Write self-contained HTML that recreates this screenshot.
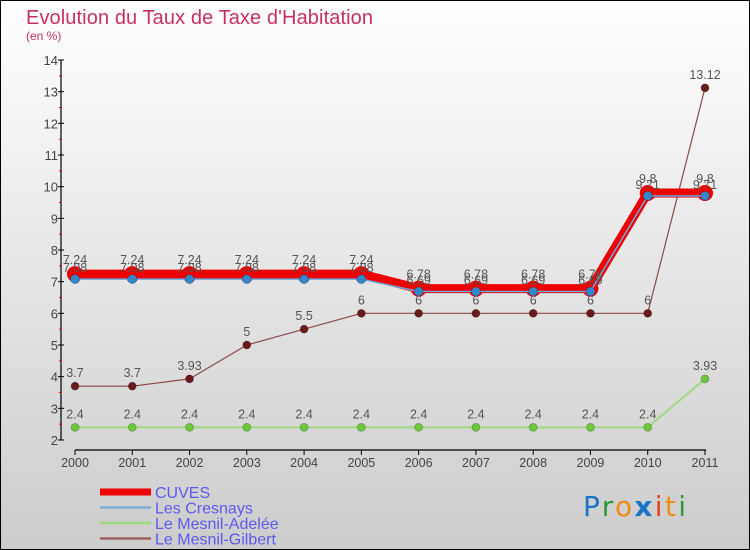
<!DOCTYPE html>
<html><head><meta charset="utf-8"><style>
body{margin:0;width:750px;height:550px;overflow:hidden;font-family:"DejaVu Sans","Liberation Sans",sans-serif}
</style></head><body>
<svg id="c" width="750" height="550" xmlns="http://www.w3.org/2000/svg" style="display:block">
<defs><linearGradient id="bg" x1="0" y1="0" x2="0" y2="1"><stop offset="0" stop-color="#ffffff"/><stop offset="1" stop-color="#cccccc"/></linearGradient></defs>
<rect x="0.5" y="0.5" width="749" height="549" fill="url(#bg)" stroke="#000"/>
<text x="26" y="24" font-size="20" fill="#c8305f" font-family="Liberation Sans, sans-serif" textLength="347">Evolution du Taux de Taxe d'Habitation</text>
<text x="26" y="40" font-size="12" fill="#c8305f" font-family="Liberation Sans, sans-serif">(en %)</text>
<g id="axes"></g><g id="series"></g><g id="legend"></g>
<text x="583" y="516" font-size="28" font-family="'DejaVu Sans',sans-serif" textLength="103"><tspan fill="#1a74c8">P</tspan><tspan fill="#2a9a3a">r</tspan><tspan fill="#f08a10">o</tspan><tspan fill="#1a74c8" font-weight="bold">x</tspan><tspan fill="#e8401a">i</tspan><tspan fill="#f08a10">t</tspan><tspan fill="#2a9a3a">i</tspan></text>
</svg>
<script>
const years=[2000,2001,2002,2003,2004,2005,2006,2007,2008,2009,2010,2011];
const cuves=[7.24,7.24,7.24,7.24,7.24,7.24,6.78,6.78,6.78,6.78,9.8,9.8];
const cresnays=[7.08,7.08,7.08,7.08,7.08,7.08,6.69,6.69,6.69,6.69,9.71,9.71];
const adelee=[2.4,2.4,2.4,2.4,2.4,2.4,2.4,2.4,2.4,2.4,2.4,3.93];
const gilbert=[3.7,3.7,3.93,5,5.5,6,6,6,6,6,6,13.12];
const yTicks=[2,3,4,5,6,7,8,9,10,11,12,13,14];
const NS='http://www.w3.org/2000/svg';
const xs=i=>75+i*(630/11);
const ys=v=>440-(v-2)*(380/12);
function mk(tag,attrs,parent,txt){const e=document.createElementNS(NS,tag);for(const k in attrs)e.setAttribute(k,attrs[k]);if(txt!==undefined)e.textContent=txt;parent.appendChild(e);return e;}
const ax=document.getElementById('axes');
let e=mk('line',{x1:61,y1:60,x2:61,y2:440,stroke:'#000','stroke-width':1.2},ax);


e=mk('line',{x1:75,y1:450,x2:706,y2:450,stroke:'#000','stroke-width':1.2},ax);


yTicks.forEach((t,i)=>{const y=ys(t);
 mk('line',{x1:58,y1:y,x2:64,y2:y,stroke:'#000'},ax);
 if(i<yTicks.length-1)mk('line',{x1:59,y1:ys(t+0.5),x2:62,y2:ys(t+0.5),stroke:'#e00'},ax);
 e=mk('text',{x:58,y:y+5,'font-size':13,fill:'#444','text-anchor':'end','font-family':'Liberation Sans, sans-serif'},ax,t);
 
 
});
years.forEach((yr,i)=>{const x=xs(i);
 mk('line',{x1:x,y1:450,x2:x,y2:455,stroke:'#000'},ax);
 e=mk('text',{x:x,y:467,'font-size':12.5,fill:'#444','text-anchor':'middle','font-family':'Liberation Sans, sans-serif'},ax,yr);
 
 
});
const sg=document.getElementById('series');
const fmt=v=>String(v);
function series(name,vals,color,w,r,dot,labOff){
 const g=mk('g',{},sg);
 
 
 const pl=mk('polyline',{points:vals.map((v,i)=>xs(i)+','+ys(v)).join(' '),fill:'none',stroke:color,'stroke-width':w,'stroke-linejoin':'round'},g);
 
 
 vals.forEach((v,i)=>{
  const c=mk('circle',{cx:xs(i),cy:ys(v),r:r,fill:dot,stroke:dot==color?'none':'rgba(0,0,0,0.2)'},g);
  
  
  const t=mk('text',{x:xs(i),y:ys(v)+labOff,'font-size':12.5,fill:'#555','text-anchor':'middle','font-family':'Liberation Sans, sans-serif'},g,fmt(v));
  
  
 });
}
series('le-mesnil-adelee',adelee,'#9ed880',2,4,'#6cc83a',-9);
series('le-mesnil-gilbert',gilbert,'#8a4a4a',1.2,4,'#6a1a1a',-9);
series('cuves',cuves,'#ee0000',9,8,'#ee0000',-10);
series('les-cresnays',cresnays,'#6aaae0',1.5,4.5,'#3388cc',-7);
const lg=document.getElementById('legend');
const leg=[['CUVES','#ee0000',7],['Les Cresnays','#7ab0d8',2.5],['Le Mesnil-Adelée','#9ed880',2.5],['Le Mesnil-Gilbert','#a06060',2.5]];
leg.forEach((l,i)=>{const y=492+i*15.5;
 const g=mk('g',{},lg);
 
 
 mk('line',{x1:100,y1:y,x2:151,y2:y,stroke:l[1],'stroke-width':l[2]},g);
 mk('text',{x:155,y:y+6,'font-size':16,fill:'#5a5aee','font-family':'Liberation Sans, sans-serif'},g,l[0]);
});
</script>
</body></html>
